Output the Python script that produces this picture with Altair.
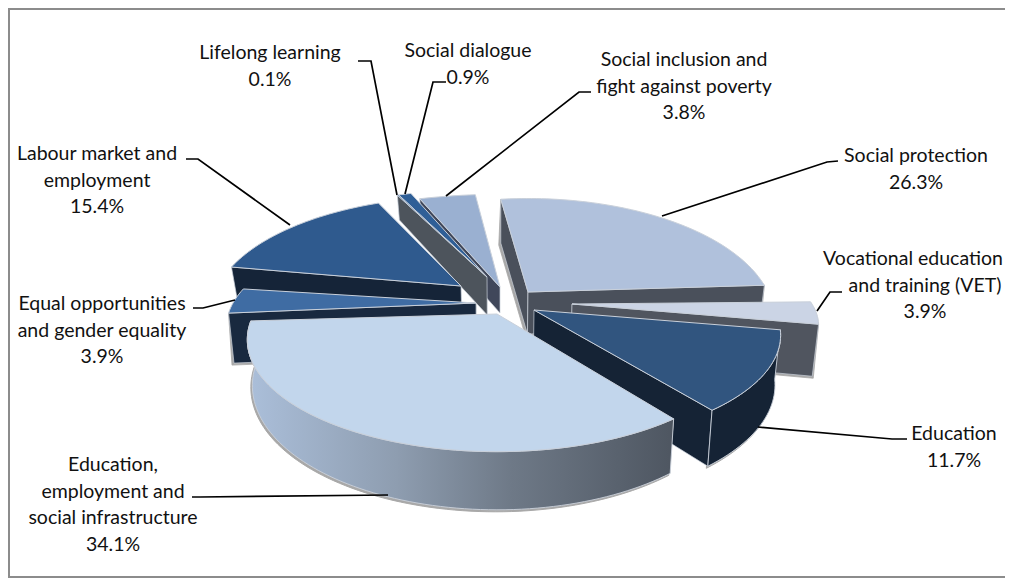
import math
import altair as alt
import pandas as pd

categories = ["Social protection", "Vocational education and training (VET)", "Education",
              "Education, employment and social infrastructure",
              "Equal opportunities and gender equality", "Labour market and employment",
              "Lifelong learning", "Social dialogue", "Social inclusion and fight against poverty"]
values = [26.3, 3.9, 11.7, 34.1, 3.9, 15.4, 0.1, 0.9, 3.8]
label_lines = [["Social protection"], ["and training (VET)"], ["Education"],
               ["Education,", "employment and", "social infrastructure"],
               ["Equal opportunities", "and gender equality"], ["Labour market and", "employment"],
               ["Lifelong learning"], ["Social dialogue"], ["Social inclusion and", "fight against poverty"]]

# ---- appearance of the exploded, tilted pie (not data) ----
ROT = -6.0
K = 0.23
S = [
    dict(ax=528, ay=292, rx=240, ry=115, n=-2, a=42, b=-0.02, top="#B0C1DC", wall="#4A505B", cut="se", outer=False, sh=True),
    dict(ax=572, ay=304, rx=240, ry=88, n=0, a=50, b=0.1, top="#CBD4E5", wall="#50555F", cut="e", outer=False, sh=True),
    dict(ax=534, ay=310, rx=240, ry=103, n=-2, a=48, b=0.08, top="#31557F", wall="#152335", cut="e", outer=True, sh=False),
    dict(ax=497, ay=314, rx=243, ry=106, n=-1, a=43, b=0.11, top="#C2D6EC", wall="#6E7987", cut="", outer=True, sh=False),
    dict(ax=476, ay=303, rx=243, ry=100, n=-3, a=50, b=0.0, top="#3F6CA3", wall="#19293F", cut="s", outer=False, sh=True),
    dict(ax=461, ay=286, rx=243, ry=110, n=-1, a=30, b=0.0, top="#2F5A8E", wall="#152438", cut="s", outer=False, sh=False),
    dict(ax=487, ay=277, rx=275, ry=108, n=0, a=38, b=0.16, top="#2F5F97", wall="#4D545C", cut="s", outer=False, sh=False),
    dict(ax=487, ay=277, rx=275, ry=108, n=0, a=38, b=0.16, top="#2F5F97", wall="#4D545C", cut="", outer=False, sh=False),
    dict(ax=500, ay=287, rx=290, ry=114, n=0, a=26, b=0.0, top="#9AB0D1", wall="#40475A", cut="s", outer=False, sh=False),
]
PAINT = [8, 7, 6, 5, 4, 0, 1, 2, 3]
EDGE = "#C9D0DA"
SHADOW = "#A8A8A8"

GRADIENT = alt.Gradient(
    gradient="linear", x1=0, x2=1, y1=0, y2=0,
    stops=[alt.GradientStop(color="#ABBFDA", offset=0),
           alt.GradientStop(color="#8E9DB0", offset=0.35),
           alt.GradientStop(color="#6E7987", offset=0.62),
           alt.GradientStop(color="#4E5661", offset=1)],
)

total = sum(values)
starts, ends = [], []
acc = ROT
for v in values:
    starts.append(acc)
    acc += v / total * 360
    ends.append(acc)

W, H = 997, 570
X = alt.X("x:Q", axis=None, scale=alt.Scale(domain=[8, 8 + W], nice=False, zero=False))
Y = alt.Y("y:Q", axis=None, scale=alt.Scale(domain=[8 + H, 8], nice=False, zero=False))


def rim(s, deg):
    t = math.radians(deg + s["n"])
    w = 1 + K * math.cos(t)
    return s["ax"] + s["rx"] * math.sin(t) / w, s["ay"] - s["ry"] * math.cos(t) / w


def low(s, p, dx=0.0, dy=0.0):
    d = s["a"] + s["b"] * (p[1] - s["ay"])
    return 500 + (p[0] - 500) * 0.98 + dx, p[1] + d + dy


def arc_pts(s, a0, a1):
    n = max(2, int(abs(a1 - a0) / 1.5) + 1)
    return [rim(s, a0 + (a1 - a0) * i / (n - 1)) for i in range(n)]


def poly(points, fill, stroke=EDGE, sw=0.9):
    df = pd.DataFrame({"x": [p[0] for p in points], "y": [p[1] for p in points],
                       "i": list(range(len(points)))})
    return alt.Chart(df).mark_line(interpolate="linear-closed", fill=fill, stroke=stroke,
                                   strokeWidth=sw).encode(x=X, y=Y, order="i:Q")


layers = []
for idx in PAINT:
    s, a0, a1 = S[idx], starts[idx], ends[idx]
    apex = (s["ax"], s["ay"])
    if s["outer"]:
        vis0, vis1 = max(a0, 80), min(a1, 275)
        top_arc = arc_pts(s, vis0, vis1)
        bot = [low(s, p) for p in top_arc]
        shadow = [low(s, p, -1.5, 2) for p in top_arc]
        layers.append(poly(top_arc + shadow[::-1], SHADOW, SHADOW, 1.0))
    if "s" in s["cut"]:
        c = rim(s, a0)
        if s["sh"]:
            layers.append(poly([c, apex, low(s, apex, -2, 2), low(s, c, -2, 2)], SHADOW, SHADOW, 0.8))
        layers.append(poly([c, apex, low(s, apex), low(s, c)], s["wall"], EDGE, 0.7))
    if "e" in s["cut"]:
        c = rim(s, a1)
        if s["sh"]:
            layers.append(poly([apex, c, low(s, c, 1, 2), low(s, apex, 1, 2)], SHADOW, SHADOW, 0.8))
        layers.append(poly([apex, c, low(s, c), low(s, apex)], s["wall"], EDGE, 0.7))
    if s["outer"]:
        fill = GRADIENT if idx == 3 else s["wall"]
        layers.append(poly(top_arc + bot[::-1], fill, EDGE, 0.9))
    layers.append(poly([apex] + arc_pts(s, a0, a1), s["top"], EDGE, 1.0))

# ---- frame ----
frame = pd.DataFrame({"x": [1030, 9, 9, 1030], "y": [9, 9, 577, 577], "i": [0, 1, 2, 3]})
layers.insert(0, alt.Chart(frame).mark_line(color="#8C8C8C", strokeWidth=2).encode(x=X, y=Y, order="i:Q"))

# ---- leader lines ----
leaders = [
    [(838, 161), (827, 162), (662, 216)],
    [(842, 292), (830, 292), (817, 311)],
    [(907, 439), (892, 439), (758, 427)],
    [(192, 497), (200, 497), (388, 495)],
    [(193, 308), (203, 308), (235, 300)],
    [(186, 159), (198, 159), (290, 225)],
    [(358, 61), (371, 61), (397, 195)],
    [(446, 82), (433, 82), (405, 194)],
    [(591, 92), (579, 92), (446, 196)],
]
for pts in leaders:
    df = pd.DataFrame({"x": [p[0] for p in pts], "y": [p[1] for p in pts], "i": range(len(pts))})
    layers.append(alt.Chart(df).mark_line(color="#000000", strokeWidth=1.7).encode(x=X, y=Y, order="i:Q"))

# ---- labels ----
label_pos = [(916, 162), (925, 291.5), (954, 440), (113, 471), (102, 310), (97, 160), (270, 59), (468, 57), (684, 66)]
rows = []
for name_lines, v, (x, y) in zip(label_lines, values, label_pos):
    rows.append({"x": x, "y": y, "t": "\n".join(name_lines + [f"{v:.1f}%"])})
rows.append({"x": 913, "y": 265, "t": "Vocational education"})
labels = alt.Chart(pd.DataFrame(rows)).mark_text(
    font="Lato", fontSize=19.5, color="#111111", lineBreak="\n", lineHeight=26.5,
    align="center", baseline="alphabetic",
).encode(x=X, y=Y, text="t:N")
layers.append(labels)

chart = alt.layer(*layers).properties(
    width=W, height=H, padding=0, autosize=alt.AutoSizeParams(type="none"), background="white"
).configure_view(stroke=None)

chart.save("out.html", embed_options={"renderer": "svg", "actions": False})
